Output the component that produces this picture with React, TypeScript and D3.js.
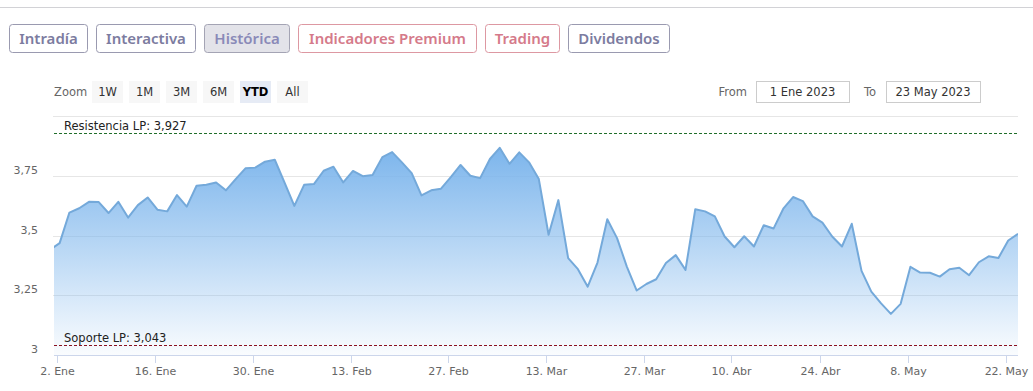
import React, { useRef, useEffect } from 'react';
import * as d3 from 'd3';

// Sesiones (cierre) — incluye 30 dic para el tramo recortado a la izquierda
const DATES = [
  '2022-12-30',
  '2023-01-02', '2023-01-03', '2023-01-04', '2023-01-05', '2023-01-06',
  '2023-01-09', '2023-01-10', '2023-01-11', '2023-01-12', '2023-01-13',
  '2023-01-16', '2023-01-17', '2023-01-18', '2023-01-19', '2023-01-20',
  '2023-01-23', '2023-01-24', '2023-01-25', '2023-01-26', '2023-01-27',
  '2023-01-30', '2023-01-31', '2023-02-01', '2023-02-02', '2023-02-03',
  '2023-02-06', '2023-02-07', '2023-02-08', '2023-02-09', '2023-02-10',
  '2023-02-13', '2023-02-14', '2023-02-15', '2023-02-16', '2023-02-17',
  '2023-02-20', '2023-02-21', '2023-02-22', '2023-02-23', '2023-02-24',
  '2023-02-27', '2023-02-28', '2023-03-01', '2023-03-02', '2023-03-03',
  '2023-03-06', '2023-03-07', '2023-03-08', '2023-03-09', '2023-03-10',
  '2023-03-13', '2023-03-14', '2023-03-15', '2023-03-16', '2023-03-17',
  '2023-03-20', '2023-03-21', '2023-03-22', '2023-03-23', '2023-03-24',
  '2023-03-27', '2023-03-28', '2023-03-29', '2023-03-30', '2023-03-31',
  '2023-04-03', '2023-04-04', '2023-04-05', '2023-04-06',
  '2023-04-11', '2023-04-12', '2023-04-13', '2023-04-14',
  '2023-04-17', '2023-04-18', '2023-04-19', '2023-04-20', '2023-04-21',
  '2023-04-24', '2023-04-25', '2023-04-26', '2023-04-27', '2023-04-28',
  '2023-05-02', '2023-05-03', '2023-05-04', '2023-05-05',
  '2023-05-08', '2023-05-09', '2023-05-10', '2023-05-11', '2023-05-12',
  '2023-05-15', '2023-05-16', '2023-05-17', '2023-05-18', '2023-05-19',
  '2023-05-22', '2023-05-23',
];

const PRICES = [
  3.44,
  3.468, 3.596, 3.614, 3.641, 3.64,
  3.594, 3.641, 3.575, 3.627, 3.659,
  3.608, 3.601, 3.669, 3.621, 3.708,
  3.712, 3.722, 3.689, 3.736, 3.781,
  3.784, 3.809, 3.817, 3.721, 3.624,
  3.712, 3.715, 3.771, 3.788, 3.722,
  3.77, 3.748, 3.753, 3.828, 3.849,
  3.806, 3.761, 3.668, 3.689, 3.696,
  3.744, 3.795, 3.75, 3.74, 3.82,
  3.867, 3.8, 3.848, 3.806, 3.736,
  3.503, 3.648, 3.405, 3.359, 3.286,
  3.387, 3.568, 3.489, 3.37, 3.27,
  3.297, 3.317, 3.385, 3.418, 3.356,
  3.61, 3.601, 3.58, 3.496,
  3.451, 3.497, 3.454, 3.543,
  3.529, 3.612, 3.661, 3.644, 3.58,
  3.554, 3.496, 3.454, 3.549, 3.352,
  3.265, 3.216, 3.172, 3.214,
  3.369, 3.345, 3.344, 3.328, 3.359,
  3.365, 3.334, 3.388, 3.413, 3.406,
  3.479, 3.507,
];

const TICK_DATES = [
  '2023-01-02', '2023-01-16', '2023-01-30', '2023-02-13', '2023-02-27', '2023-03-13',
  '2023-03-27', '2023-04-10', '2023-04-24', '2023-05-08', '2023-05-22',
];
const MONTHS = ['Ene', 'Feb', 'Mar', 'Abr', 'May'];
const Y_TICKS = [3, 3.25, 3.5, 3.75, 4];
const RANGE_FROM = '2023-01-01';
const RESISTENCIA = 3.927;
const SOPORTE = 3.043;

const TABS = ['Intradía', 'Interactiva', 'Histórica', 'Indicadores Premium', 'Trading', 'Dividendos'];
const TAB_KIND = ['normal', 'normal', 'active', 'premium', 'premium', 'normal'];
const ZOOM_BUTTONS = ['1W', '1M', '3M', '6M', 'YTD', 'All'];
const ZOOM_SELECTED = 'YTD';
const FROM_LABEL = '1 Ene 2023';
const TO_LABEL = '23 May 2023';

const WIDTH = 1033;
const HEIGHT = 391;
const FONT = '"DejaVu Sans", Verdana, sans-serif';
const TAB_FONT = '"Noto Sans", "Open Sans", sans-serif';

const parts = (s: string) => s.split('-').map(Number);
const closeTime = (s: string) => { const [y, m, d] = parts(s); return Date.UTC(y, m - 1, d, 17, 30); };
const midnight = (s: string) => { const [y, m, d] = parts(s); return Date.UTC(y, m - 1, d); };
const fmt = (v: number) => String(v).replace('.', ',');

const App: React.FC = () => {
  const svgRef = useRef<SVGSVGElement | null>(null);

  useEffect(() => {
    document.body.style.margin = '0';
    const svg = d3.select(svgRef.current);
    svg.selectAll('*').remove();

    // línea superior
    svg.append('line').attr('x1', 0).attr('x2', WIDTH).attr('y1', 7.5).attr('y2', 7.5)
      .attr('stroke', '#d2d2d6');

    // pestañas
    const tabColors: Record<string, { stroke: string; fill: string; text: string }> = {
      normal: { stroke: '#9a9ab0', fill: '#fff', text: '#7c7ca0' },
      active: { stroke: '#a4a4b4', fill: '#e3e3e9', text: '#8a8ab8' },
      premium: { stroke: '#dd98a2', fill: '#fff', text: '#d57a8a' },
    };
    let tx = 9;
    TABS.forEach((label, i) => {
      const c = tabColors[TAB_KIND[i]];
      const g = svg.append('g');
      const rect = g.append('rect').attr('y', 24.5).attr('height', 28).attr('rx', 3)
        .attr('fill', c.fill).attr('stroke', c.stroke);
      const t = g.append('text').attr('y', 44).attr('font-family', TAB_FONT).attr('font-size', 15)
        .attr('font-weight', 600).attr('fill', c.text).text(label);
      const w = (t.node() as SVGTextElement).getComputedTextLength();
      const bw = Math.round(w * 1.02 + 18);
      rect.attr('x', tx + 0.5).attr('width', bw);
      t.attr('x', tx + 0.5 + bw / 2).attr('text-anchor', 'middle');
      tx += bw + 9;
    });

    // selector de zoom
    svg.append('text').attr('x', 54).attr('y', 96).attr('font-family', FONT).attr('font-size', 11.5)
      .attr('fill', '#666').text('Zoom');
    ZOOM_BUTTONS.forEach((b, i) => {
      const sel = b === ZOOM_SELECTED;
      const bx = 92 + i * 37;
      svg.append('rect').attr('x', bx).attr('y', 81).attr('width', 31).attr('height', 22)
        .attr('fill', sel ? '#e6ebf5' : '#f7f7f7');
      svg.append('text').attr('x', bx + 15.5).attr('y', 96).attr('text-anchor', 'middle')
        .attr('font-family', FONT).attr('font-size', 11.5).attr('font-weight', sel ? 'bold' : 'normal')
        .attr('fill', sel ? '#000' : '#333').text(b);
    });

    // From / To
    const inputs = [
      { label: 'From', value: FROM_LABEL, lx: 747, bx: 756, bw: 93 },
      { label: 'To', value: TO_LABEL, lx: 876, bx: 886, bw: 94 },
    ];
    inputs.forEach(inp => {
      svg.append('text').attr('x', inp.lx).attr('y', 96).attr('text-anchor', 'end')
        .attr('font-family', FONT).attr('font-size', 11.5).attr('fill', '#666').text(inp.label);
      svg.append('rect').attr('x', inp.bx + 0.5).attr('y', 81.5).attr('width', inp.bw).attr('height', 21)
        .attr('fill', '#fff').attr('stroke', '#cccccc');
      svg.append('text').attr('x', inp.bx + inp.bw / 2).attr('y', 96).attr('text-anchor', 'middle')
        .attr('font-family', FONT).attr('font-size', 11.5).attr('fill', '#333').text(inp.value);
    });

    // área del gráfico
    const plot = { left: 54, right: 1018, top: 116, bottom: 355 };
    const times = DATES.map(closeTime);
    const ordinal = (t: number) => {
      let i = d3.bisectRight(times, t) - 1;
      i = Math.max(0, Math.min(times.length - 2, i));
      return i + (t - times[i]) / (times[i + 1] - times[i]);
    };

    const x = d3.scaleLinear()
      .domain([ordinal(midnight(RANGE_FROM)), times.length - 1])
      .range([plot.left, plot.right]);
    const y = d3.scaleLinear().domain([Y_TICKS[0], Y_TICKS[Y_TICKS.length - 1]])
      .range([plot.bottom, plot.top]);

    const defs = svg.append('defs');
    defs.append('clipPath').attr('id', 'plotClip').append('rect')
      .attr('x', plot.left).attr('y', plot.top - 5).attr('width', plot.right - plot.left)
      .attr('height', plot.bottom - plot.top + 5);
    const grad = defs.append('linearGradient').attr('id', 'areaFill')
      .attr('x1', 0).attr('y1', 0).attr('x2', 0).attr('y2', 1);
    grad.append('stop').attr('offset', '0%').attr('stop-color', '#7cb5ec').attr('stop-opacity', 1);
    grad.append('stop').attr('offset', '100%').attr('stop-color', '#7cb5ec').attr('stop-opacity', 0.04);

    // rejilla
    Y_TICKS.filter(v => v !== Y_TICKS[0]).forEach(v => {
      svg.append('line').attr('x1', plot.left - 1).attr('x2', plot.right)
        .attr('y1', Math.round(y(v)) + 0.5).attr('y2', Math.round(y(v)) + 0.5)
        .attr('stroke', '#e6e6e6');
    });
    Y_TICKS.slice(0, -1).forEach(v => {
      svg.append('text').attr('x', 38).attr('y', y(v) - 2).attr('text-anchor', 'end')
        .attr('font-family', FONT).attr('font-size', 11).attr('fill', '#666').text(fmt(v));
    });

    const series = PRICES.map((v, i) => ({ i, v }));
    const area = d3.area<{ i: number; v: number }>()
      .x(d => x(d.i)).y0(plot.bottom).y1(d => y(d.v));
    const line = d3.line<{ i: number; v: number }>().x(d => x(d.i)).y(d => y(d.v));

    const g = svg.append('g').attr('clip-path', 'url(#plotClip)');
    g.append('path').datum(series).attr('d', area).attr('fill', 'url(#areaFill)');
    g.append('path').datum(series).attr('d', line).attr('fill', 'none')
      .attr('stroke', '#74a9da').attr('stroke-width', 2).attr('stroke-linejoin', 'round');

    // eje X
    svg.append('line').attr('x1', plot.left).attr('x2', plot.right)
      .attr('y1', plot.bottom + 0.5).attr('y2', plot.bottom + 0.5).attr('stroke', '#ccd6eb');
    TICK_DATES.forEach(dt => {
      const px = Math.round(x(ordinal(midnight(dt)))) + 0.5;
      const [, m, d] = parts(dt);
      svg.append('line').attr('x1', px).attr('x2', px).attr('y1', plot.bottom).attr('y2', plot.bottom + 8)
        .attr('stroke', '#ccd6eb');
      svg.append('text').attr('x', px).attr('y', 375).attr('text-anchor', 'middle')
        .attr('font-family', FONT).attr('font-size', 11).attr('fill', '#666')
        .text(`${d}. ${MONTHS[m - 1]}`);
    });

    // líneas de resistencia y soporte
    const levels = [
      { v: RESISTENCIA, name: 'Resistencia LP', color: '#1f6e2a' },
      { v: SOPORTE, name: 'Soporte LP', color: '#8a1020' },
    ];
    levels.forEach(l => {
      const ly = Math.round(y(l.v)) + 0.5;
      svg.append('line').attr('x1', plot.left).attr('x2', plot.right).attr('y1', ly).attr('y2', ly)
        .attr('stroke', l.color).attr('stroke-dasharray', '3,2');
      svg.append('text').attr('x', 64).attr('y', ly - 4).attr('font-family', FONT)
        .attr('font-size', 11.5).attr('fill', '#222').text(`${l.name}: ${fmt(l.v)}`);
    });
  }, []);

  return (
    <div style={{ position: 'absolute', left: 0, top: 0, width: WIDTH, height: HEIGHT, background: '#fff' }}>
      <svg ref={svgRef} width={WIDTH} height={HEIGHT} />
    </div>
  );
};

export default App;
